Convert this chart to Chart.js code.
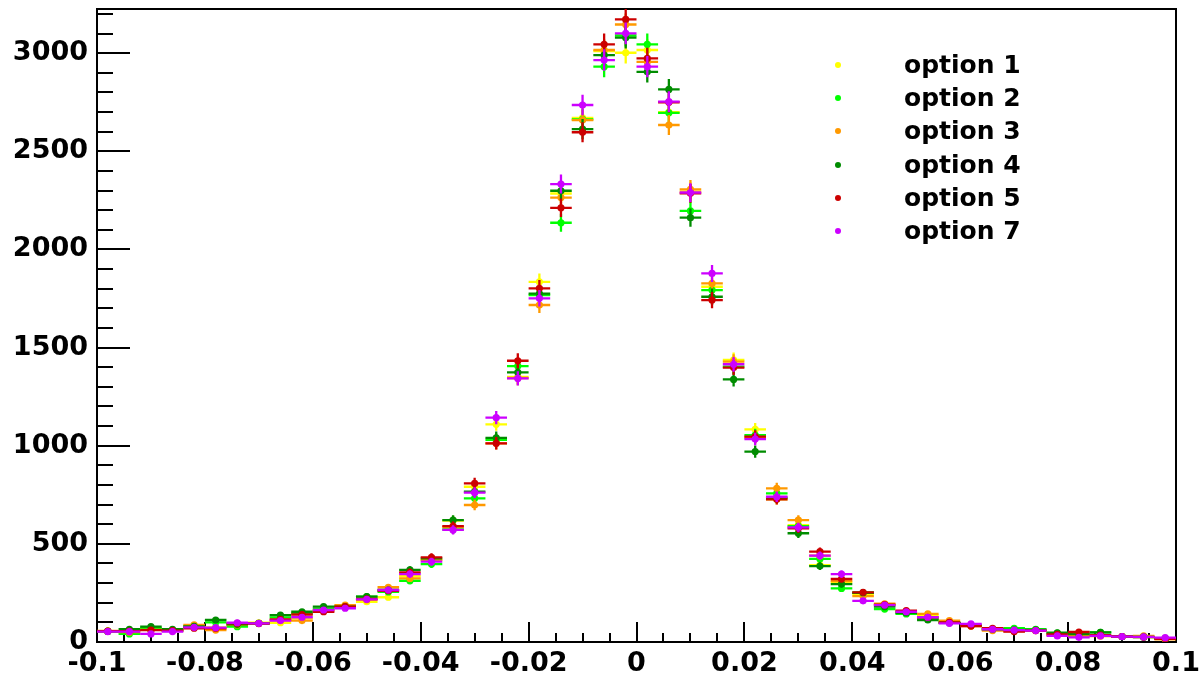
<!DOCTYPE html>
<html>
<head>
<meta charset="utf-8">
<script src="https://cdn.jsdelivr.net/npm/chart.js@4.4.0/dist/chart.umd.min.js"></script>
<style>
  html, body { margin: 0; padding: 0; background: #fff; }
  #wrap { position: relative; width: 1199px; height: 676px; overflow: hidden; }
  #chart { display: block; }
  #legend { position: absolute; left: 0; top: 0; font-family: "DejaVu Sans", sans-serif; font-weight: bold; font-size: 25px; color: #000; }
  .lrow { position: absolute; height: 30px; line-height: 30px; white-space: nowrap; }
  .lmark { position: absolute; width: 6px; height: 6px; border-radius: 50%; top: 12px; left: 0; }
  .ltext { position: absolute; left: 69px; top: 0; }
</style>
</head>
<body>
<div id="wrap">
  <canvas id="chart" width="1199" height="676"></canvas>
  <div id="legend"></div>
</div>
<script>
// ---- data ----
const binCenters = [-0.098, -0.094, -0.090, -0.086, -0.082, -0.078, -0.074, -0.070, -0.066, -0.062,
                    -0.058, -0.054, -0.050, -0.046, -0.042, -0.038, -0.034, -0.030, -0.026, -0.022,
                    -0.018, -0.014, -0.010, -0.006, -0.002, 0.002, 0.006, 0.010, 0.014, 0.018,
                    0.022, 0.026, 0.030, 0.034, 0.038, 0.042, 0.046, 0.050, 0.054, 0.058,
                    0.062, 0.066, 0.070, 0.074, 0.078, 0.082, 0.086, 0.090, 0.094, 0.098];
const binHalfWidth = 0.002;

const option1 = [55, 52, 65, 58, 80, 75, 90, 98, 98, 120,
                 165, 180, 205, 228, 336, 418, 618, 791, 1109, 1351,
                 1835, 2285, 2670, 3010, 3002, 3016, 2700, 2295, 1810, 1437,
                 1083, 727, 595, 392, 305, 245, 192, 155, 135, 100,
                 82, 62, 58, 60, 35, 30, 32, 28, 28, 18];
const option2 = [55, 41, 70, 60, 78, 100, 78, 95, 125, 145,
                 170, 178, 231, 255, 312, 397, 574, 732, 1030, 1406,
                 1768, 2136, 2663, 2931, 3090, 3045, 2696, 2196, 1793, 1403,
                 1054, 757, 590, 423, 273, 251, 168, 143, 118, 100,
                 85, 65, 70, 65, 45, 35, 49, 27, 25, 18];
const option3 = [56, 50, 62, 58, 87, 61, 87, 95, 110, 109,
                 160, 188, 215, 279, 324, 418, 585, 698, 1012, 1345,
                 1717, 2264, 2659, 3016, 3146, 2956, 2634, 2306, 1827, 1428,
                 1042, 783, 621, 440, 310, 234, 195, 155, 143, 109,
                 81, 58, 55, 58, 38, 32, 30, 28, 31, 14];
const option4 = [54, 65, 78, 65, 80, 112, 90, 95, 137, 154,
                 180, 180, 231, 265, 367, 426, 621, 766, 1040, 1374,
                 1775, 2299, 2613, 2990, 3079, 2905, 2815, 2162, 1759, 1338,
                 970, 735, 554, 387, 295, 251, 180, 148, 112, 98,
                 85, 65, 62, 62, 47, 40, 49, 28, 26, 16];
const option5 = [55, 55, 60, 58, 70, 70, 95, 94, 115, 140,
                 154, 180, 220, 261, 355, 431, 590, 808, 1012, 1433,
                 1802, 2212, 2597, 3045, 3172, 2973, 2750, 2286, 1742, 1398,
                 1046, 727, 579, 460, 321, 253, 190, 160, 125, 100,
                 81, 70, 53, 58, 39, 51, 35, 28, 25, 16];
const option7 = [53, 53, 41, 53, 75, 73, 98, 95, 109, 126,
                 163, 172, 217, 265, 346, 409, 571, 761, 1143, 1343,
                 1751, 2333, 2736, 2965, 3101, 2931, 2753, 2290, 1878, 1415,
                 1034, 740, 584, 440, 346, 210, 188, 154, 126, 95,
                 92, 65, 61, 58, 31, 24, 31, 27, 26, 22];

const seriesNames  = ['option 1', 'option 2', 'option 3', 'option 4', 'option 5', 'option 7'];
const seriesValues = [option1, option2, option3, option4, option5, option7];
const seriesColors = ['#ffff00', '#00ff00', '#ff9900', '#008c00', '#cc0000', '#cc00ff'];

const xTickValues = [-0.1, -0.08, -0.06, -0.04, -0.02, 0, 0.02, 0.04, 0.06, 0.08, 0.1];
const xTickLabels = ['-0.1', '-0.08', '-0.06', '-0.04', '-0.02', '0', '0.02', '0.04', '0.06', '0.08', '0.1'];
const yTickValues = [0, 500, 1000, 1500, 2000, 2500, 3000];
const yTickLabels = ['0', '500', '1000', '1500', '2000', '2500', '3000'];
const xMinorStep = 0.005;
const yMinorStep = 100;

// ---- datasets ----
function errorSegments(values) {
  const pts = [];
  values.forEach((v, i) => {
    const c = binCenters[i];
    const e = Math.sqrt(v);
    pts.push({x: c - binHalfWidth, y: v}, {x: c + binHalfWidth, y: v}, {x: c, y: null});
    pts.push({x: c, y: v - e}, {x: c, y: v + e}, {x: c, y: null});
  });
  return pts;
}

const datasets = [];
seriesValues.forEach((vals, k) => {
  const ord = seriesValues.length - 1 - k;
  datasets.push({
    label: seriesNames[k],
    data: vals.map((v, i) => ({x: binCenters[i], y: v})),
    showLine: false,
    pointRadius: 3.6,
    pointBorderWidth: 0,
    pointBackgroundColor: seriesColors[k],
    pointBorderColor: seriesColors[k],
    order: ord
  });
  datasets.push({
    label: seriesNames[k] + ' err',
    data: errorSegments(vals),
    showLine: true,
    spanGaps: false,
    pointRadius: 0,
    borderWidth: 2.3,
    borderColor: seriesColors[k],
    tension: 0,
    order: ord
  });
});

const frameTicks = {
  id: 'frameTicks',
  beforeDatasetsDraw(chart) {
    const {ctx, chartArea: a, scales: {x, y}} = chart;
    ctx.save();
    ctx.strokeStyle = '#000';
    ctx.lineWidth = 2;
    ctx.beginPath();
    for (let v = 0; v <= y.max + 1e-9; v += yMinorStep) {
      const p = Math.round(y.getPixelForValue(v));
      const len = (Math.round(v) % 500 === 0) ? 33 : 16;
      ctx.moveTo(a.left, p); ctx.lineTo(a.left + len, p);
    }
    const n = Math.round((x.max - x.min) / xMinorStep);
    for (let i = 0; i <= n; i++) {
      const v = x.min + i * xMinorStep;
      const p = Math.round(x.getPixelForValue(v));
      const len = (i % 4 === 0) ? 20 : 9;
      ctx.moveTo(p, a.bottom); ctx.lineTo(p, a.bottom - len);
    }
    ctx.stroke();
    ctx.strokeRect(a.left, a.top, a.right - a.left, a.bottom - a.top);
    ctx.restore();
  }
};

const tickFont = {family: '"DejaVu Sans", sans-serif', weight: 'bold', size: 27};

new Chart(document.getElementById('chart'), {
  type: 'scatter',
  data: {datasets},
  options: {
    responsive: false,
    animation: false,
    events: [],
    layout: {padding: {top: 9, right: 23, left: 0, bottom: 0}},
    plugins: {legend: {display: false}, tooltip: {enabled: false}},
    scales: {
      x: {
        type: 'linear', min: -0.1, max: 0.1,
        grid: {display: false, drawTicks: false, tickLength: 0},
        border: {display: true, color: '#000', width: 2},
        afterBuildTicks: s => { s.ticks = xTickValues.map(v => ({value: v})); },
        afterFit: s => { s.height = 34; s.paddingLeft = 0; s.paddingRight = 0; },
        ticks: {
          color: '#000', font: tickFont, padding: 6, maxRotation: 0, autoSkip: false,
          callback: (v, i) => xTickLabels[i]
        }
      },
      y: {
        type: 'linear', min: 0, max: 3225,
        grid: {display: false, drawTicks: false, tickLength: 0},
        border: {display: true, color: '#000', width: 2},
        afterBuildTicks: s => { s.ticks = yTickValues.map(v => ({value: v})); },
        afterFit: s => { s.width = 97; s.paddingTop = 0; s.paddingBottom = 0; },
        ticks: {
          color: '#000', font: tickFont, padding: 9, autoSkip: false,
          callback: (v, i) => yTickLabels[i]
        }
      }
    }
  },
  plugins: [frameTicks]
});

// HTML legend built from the series arrays
const legend = document.getElementById('legend');
const legendTop = 50, legendStep = 33.2, legendLeft = 835;
seriesNames.forEach((name, k) => {
  const row = document.createElement('div');
  row.className = 'lrow';
  row.style.left = legendLeft + 'px';
  row.style.top = (legendTop + k * legendStep) + 'px';
  const m = document.createElement('div');
  m.className = 'lmark';
  m.style.background = seriesColors[k];
  const t = document.createElement('span');
  t.className = 'ltext';
  t.textContent = name;
  row.appendChild(m); row.appendChild(t);
  legend.appendChild(row);
});
</script>
</body>
</html>
